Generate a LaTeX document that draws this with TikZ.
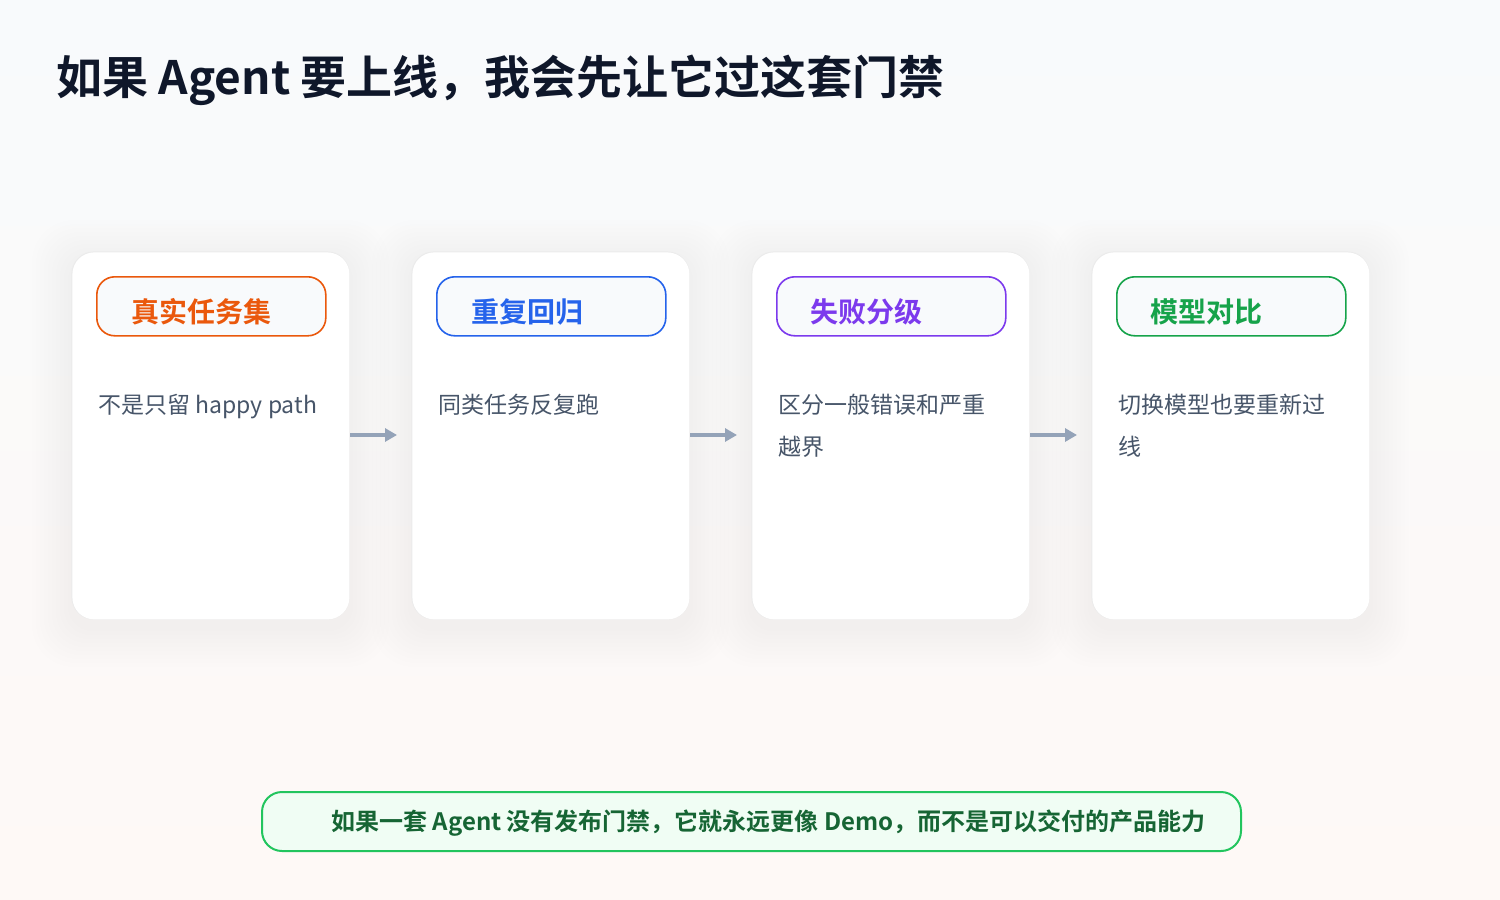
\documentclass[tikz,border=0pt]{standalone}
\usepackage{fontspec}
\setmainfont{Noto Sans CJK SC}[BoldFont={Noto Sans CJK SC Bold}]
\usetikzlibrary{arrows.meta}
\definecolor{bgtop}{HTML}{F8FAFC}
\definecolor{bgbot}{HTML}{FEF9F6}
\definecolor{titlec}{HTML}{0F172A}
\definecolor{bodyc}{HTML}{475569}
\definecolor{arrowc}{HTML}{94A3B8}
\definecolor{pillfill}{HTML}{F8FAFC}
\definecolor{corange}{HTML}{EA580C}
\definecolor{cblue}{HTML}{2563EB}
\definecolor{cpurple}{HTML}{7C3AED}
\definecolor{cgreen}{HTML}{16A34A}
\definecolor{banfill}{HTML}{F0FDF4}
\definecolor{banline}{HTML}{22C55E}
\definecolor{bantext}{HTML}{166534}
\tikzset{
  card/.style={fill=white, draw=none, rounded corners=11pt},
  pill/.style={fill=pillfill, draw=#1, line width=0.8pt, rounded corners=9pt},
  pilltext/.style={text=#1, anchor=west, inner sep=0pt, font=\bfseries\fontsize{14}{16}\selectfont},
  bodytext/.style={text=bodyc, anchor=north west, inner sep=0pt, align=left, font=\fontsize{11.5}{21}\selectfont},
  flow/.style={draw=arrowc, line width=2pt, -{Triangle[length=6pt,width=6.5pt]}},
}
\begin{document}
\begin{tikzpicture}[x=0.5pt,y=-0.5pt]
\useasboundingbox (0,0) rectangle (1500,900);
\shade[top color=bgtop, bottom color=bgbot] (0,0) rectangle (1500,900);
% soft shadows
\foreach \cx in {72,412,752,1092}{
  \foreach \s in {4,8,...,40}{
    \fill[black, fill opacity=0.005, rounded corners=11pt+\s*0.25pt]
      (\cx-\s,252-\s+8) rectangle (\cx+277+\s,619+\s+8);
  }
  \draw[black!8, line width=0.6pt, rounded corners=11pt] (\cx,252) rectangle (\cx+277,619);
}
% title
\node[anchor=west, inner sep=0pt, text=titlec, font=\bfseries\fontsize{23}{27}\selectfont] (title) at (56,80) {如果 Agent 要上线，我会先让它过这套门禁};
% cards
\node[card, minimum width=138.5pt, minimum height=183.5pt, anchor=north west] (c1) at (72,252) {};
\node[card, minimum width=138.5pt, minimum height=183.5pt, anchor=north west] (c2) at (412,252) {};
\node[card, minimum width=138.5pt, minimum height=183.5pt, anchor=north west] (c3) at (752,252) {};
\node[card, minimum width=138.5pt, minimum height=183.5pt, anchor=north west] (c4) at (1092,252) {};
% pills
\node[pill=corange, minimum width=114.5pt, minimum height=29.5pt, anchor=north west] (p1) at (96,276) {};
\node[pill=cblue, minimum width=114.5pt, minimum height=29.5pt, anchor=north west] (p2) at (436,276) {};
\node[pill=cpurple, minimum width=114.5pt, minimum height=29.5pt, anchor=north west] (p3) at (776,276) {};
\node[pill=cgreen, minimum width=114.5pt, minimum height=29.5pt, anchor=north west] (p4) at (1116,276) {};
\node[pilltext=corange] (t1) at (131,312) {真实任务集};
\node[pilltext=cblue] (t2) at (471,312) {重复回归};
\node[pilltext=cpurple] (t3) at (810,312) {失败分级};
\node[pilltext=cgreen] (t4) at (1150,312) {模型对比};
% bodies
\node[bodytext] (b1) at (98,394) {不是只留 happy path};
\node[bodytext] (b2) at (438,394) {同类任务反复跑};
\node[bodytext] (b3) at (778,394) {区分一般错误和严重\\越界};
\node[bodytext] (b4) at (1118,394) {切换模型也要重新过\\线};
% arrows
\coordinate (a1s) at (350,435); \coordinate (a1e) at (397,435);
\coordinate (a2s) at (690,435); \coordinate (a2e) at (737,435);
\coordinate (a3s) at (1030,435); \coordinate (a3e) at (1077,435);
\draw[flow] (a1s) -- (a1e);
\draw[flow] (a2s) -- (a2e);
\draw[flow] (a3s) -- (a3e);
% banner
\node[fill=banfill, draw=banline, line width=1pt, rounded corners=10pt, minimum width=489.5pt, minimum height=29.5pt, anchor=north west] (ban) at (261,791) {};
\node[anchor=west, inner sep=0pt, text=bantext, font=\bfseries\fontsize{12}{15}\selectfont] (bant) at (331,823) {如果一套 Agent 没有发布门禁，它就永远更像 Demo，而不是可以交付的产品能力};
\end{tikzpicture}
\end{document}
